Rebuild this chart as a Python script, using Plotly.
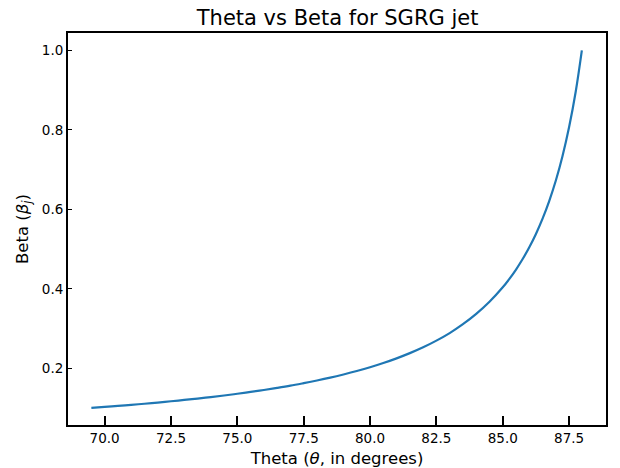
import plotly.graph_objects as go

theta = [69.5, 70.0, 70.5, 71.0, 71.5, 72.0, 72.5, 73.0, 73.5, 74.0, 74.5, 75.0,
         75.5, 76.0, 76.5, 77.0, 77.5, 78.0, 78.5, 79.0, 79.5, 80.0, 80.5, 81.0,
         81.5, 82.0, 82.5, 83.0, 83.5, 84.0, 84.5, 85.0, 85.25, 85.5, 85.75, 86.0,
         86.25, 86.5, 86.75, 87.0, 87.25, 87.5, 87.75, 87.98]
beta = [0.1005, 0.1029, 0.1055, 0.1081, 0.1109, 0.1139, 0.1171, 0.1204, 0.1239,
        0.1277, 0.1317, 0.1360, 0.1406, 0.1455, 0.1508, 0.1564, 0.1627, 0.1693,
        0.1765, 0.1845, 0.1932, 0.2028, 0.2133, 0.2251, 0.2382, 0.2529, 0.2697,
        0.2887, 0.3110, 0.3369, 0.3674, 0.4039, 0.4251, 0.4486, 0.4750, 0.5046,
        0.5382, 0.5766, 0.6209, 0.6725, 0.7336, 0.8070, 0.8966, 1.0000]

x_ticks = [70.0, 72.5, 75.0, 77.5, 80.0, 82.5, 85.0, 87.5]
y_ticks = [0.2, 0.4, 0.6, 0.8, 1.0]

title_text = "Theta vs Beta for SGRG jet"
x_label = "Theta (<i>θ</i>, in degrees)"
y_label = "Beta (<i>β<sub>j</sub></i>)"

FONT = "DejaVu Sans"

fig = go.Figure()
fig.add_trace(go.Scatter(
    x=theta, y=beta, mode="lines",
    line=dict(color="#1f77b4", width=2.2, shape="spline", smoothing=1.0),
    showlegend=False, hoverinfo="skip",
))

fig.update_layout(
    width=620, height=468,
    margin=dict(l=68, r=14, t=33, b=43, pad=0),
    paper_bgcolor="white", plot_bgcolor="white",
    font=dict(family=FONT, color="black", size=13.5),
    title=dict(text=title_text, x=0.5445, xanchor="center", y=1 - 18 / 468,
               yanchor="middle", yref="container",
               font=dict(family=FONT, size=21, color="black")),
)

fig.update_xaxes(
    range=[68.62, 88.89], tickvals=x_ticks,
    ticktext=[f"{v:.1f}" for v in x_ticks],
    ticks="inside", ticklen=9, tickwidth=2, tickcolor="black",
    showline=True, linewidth=2, linecolor="black", mirror=True,
    showgrid=False, zeroline=False, automargin=False,
    ticklabelstandoff=0,
    tickfont=dict(family=FONT, size=13.5, color="black"),
    title=dict(text=x_label, standoff=7, font=dict(family=FONT, size=16.5, color="black")),
)
fig.update_yaxes(
    range=[0.0574, 1.0437], tickvals=y_ticks,
    ticktext=[f"{v:.1f}" for v in y_ticks],
    ticks="inside", ticklen=4, tickwidth=1, tickcolor="black",
    showline=True, linewidth=2, linecolor="black", mirror=True,
    showgrid=False, zeroline=False, automargin=False,
    ticklabelstandoff=0,
    tickfont=dict(family=FONT, size=13.5, color="black"),
    title=dict(text=y_label, standoff=9, font=dict(family=FONT, size=16.5, color="black")),
)

fig.write_html("out.html")
